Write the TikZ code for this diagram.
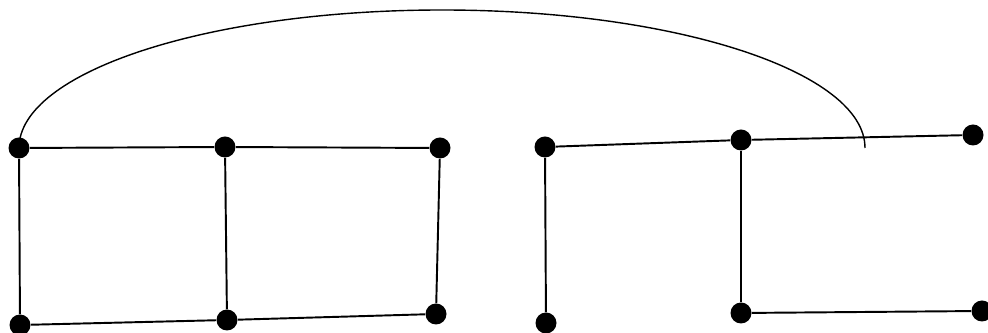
\documentclass[tikz,border=0pt]{standalone}
\usepackage{tikz}
\usetikzlibrary{calc}

\begin{document}
\begin{tikzpicture}[x=0.02cm, y=-0.02cm,
  vtx/.style ={circle, fill=black, inner sep=0pt, minimum size=0.42cm},
  edge/.style={draw=black, line width=1.1pt},
  loop/.style={draw=black, line width=0.8pt}]
\useasboundingbox (0,0) rectangle (988,333);
% left graph
\node[vtx] (a1) at (19,148)  {};
\node[vtx] (a2) at (225,147) {};
\node[vtx] (a3) at (440,148) {};
\node[vtx] (b1) at (20,325)  {};
\node[vtx] (b2) at (227,320) {};
\node[vtx] (b3) at (436,314) {};
% right graph
\node[vtx] (c1) at (545,147) {};
\node[vtx] (c2) at (741,140) {};
\node[vtx] (c3) at (973,135) {};
\node[vtx] (d1) at (546,323) {};
\node[vtx] (d2) at (741,313) {};
\node[vtx] (d3) at (982,311) {};
\coordinate (arctop) at (442,10);
\coordinate (arcend) at (865,148);
\foreach \u/\v in {a1/a2,a2/a3,b1/b2,b2/b3,a1/b1,a2/b2,a3/b3,
                   c1/c2,c2/c3,c1/d1,c2/d2,d2/d3}
  {\draw[edge] (\u) -- (\v);}
\draw[loop] (a1.center) .. controls (19,72) and (208,10) .. (arctop)
                        .. controls (676,10) and (865,72) .. (arcend);
\end{tikzpicture}
\end{document}
